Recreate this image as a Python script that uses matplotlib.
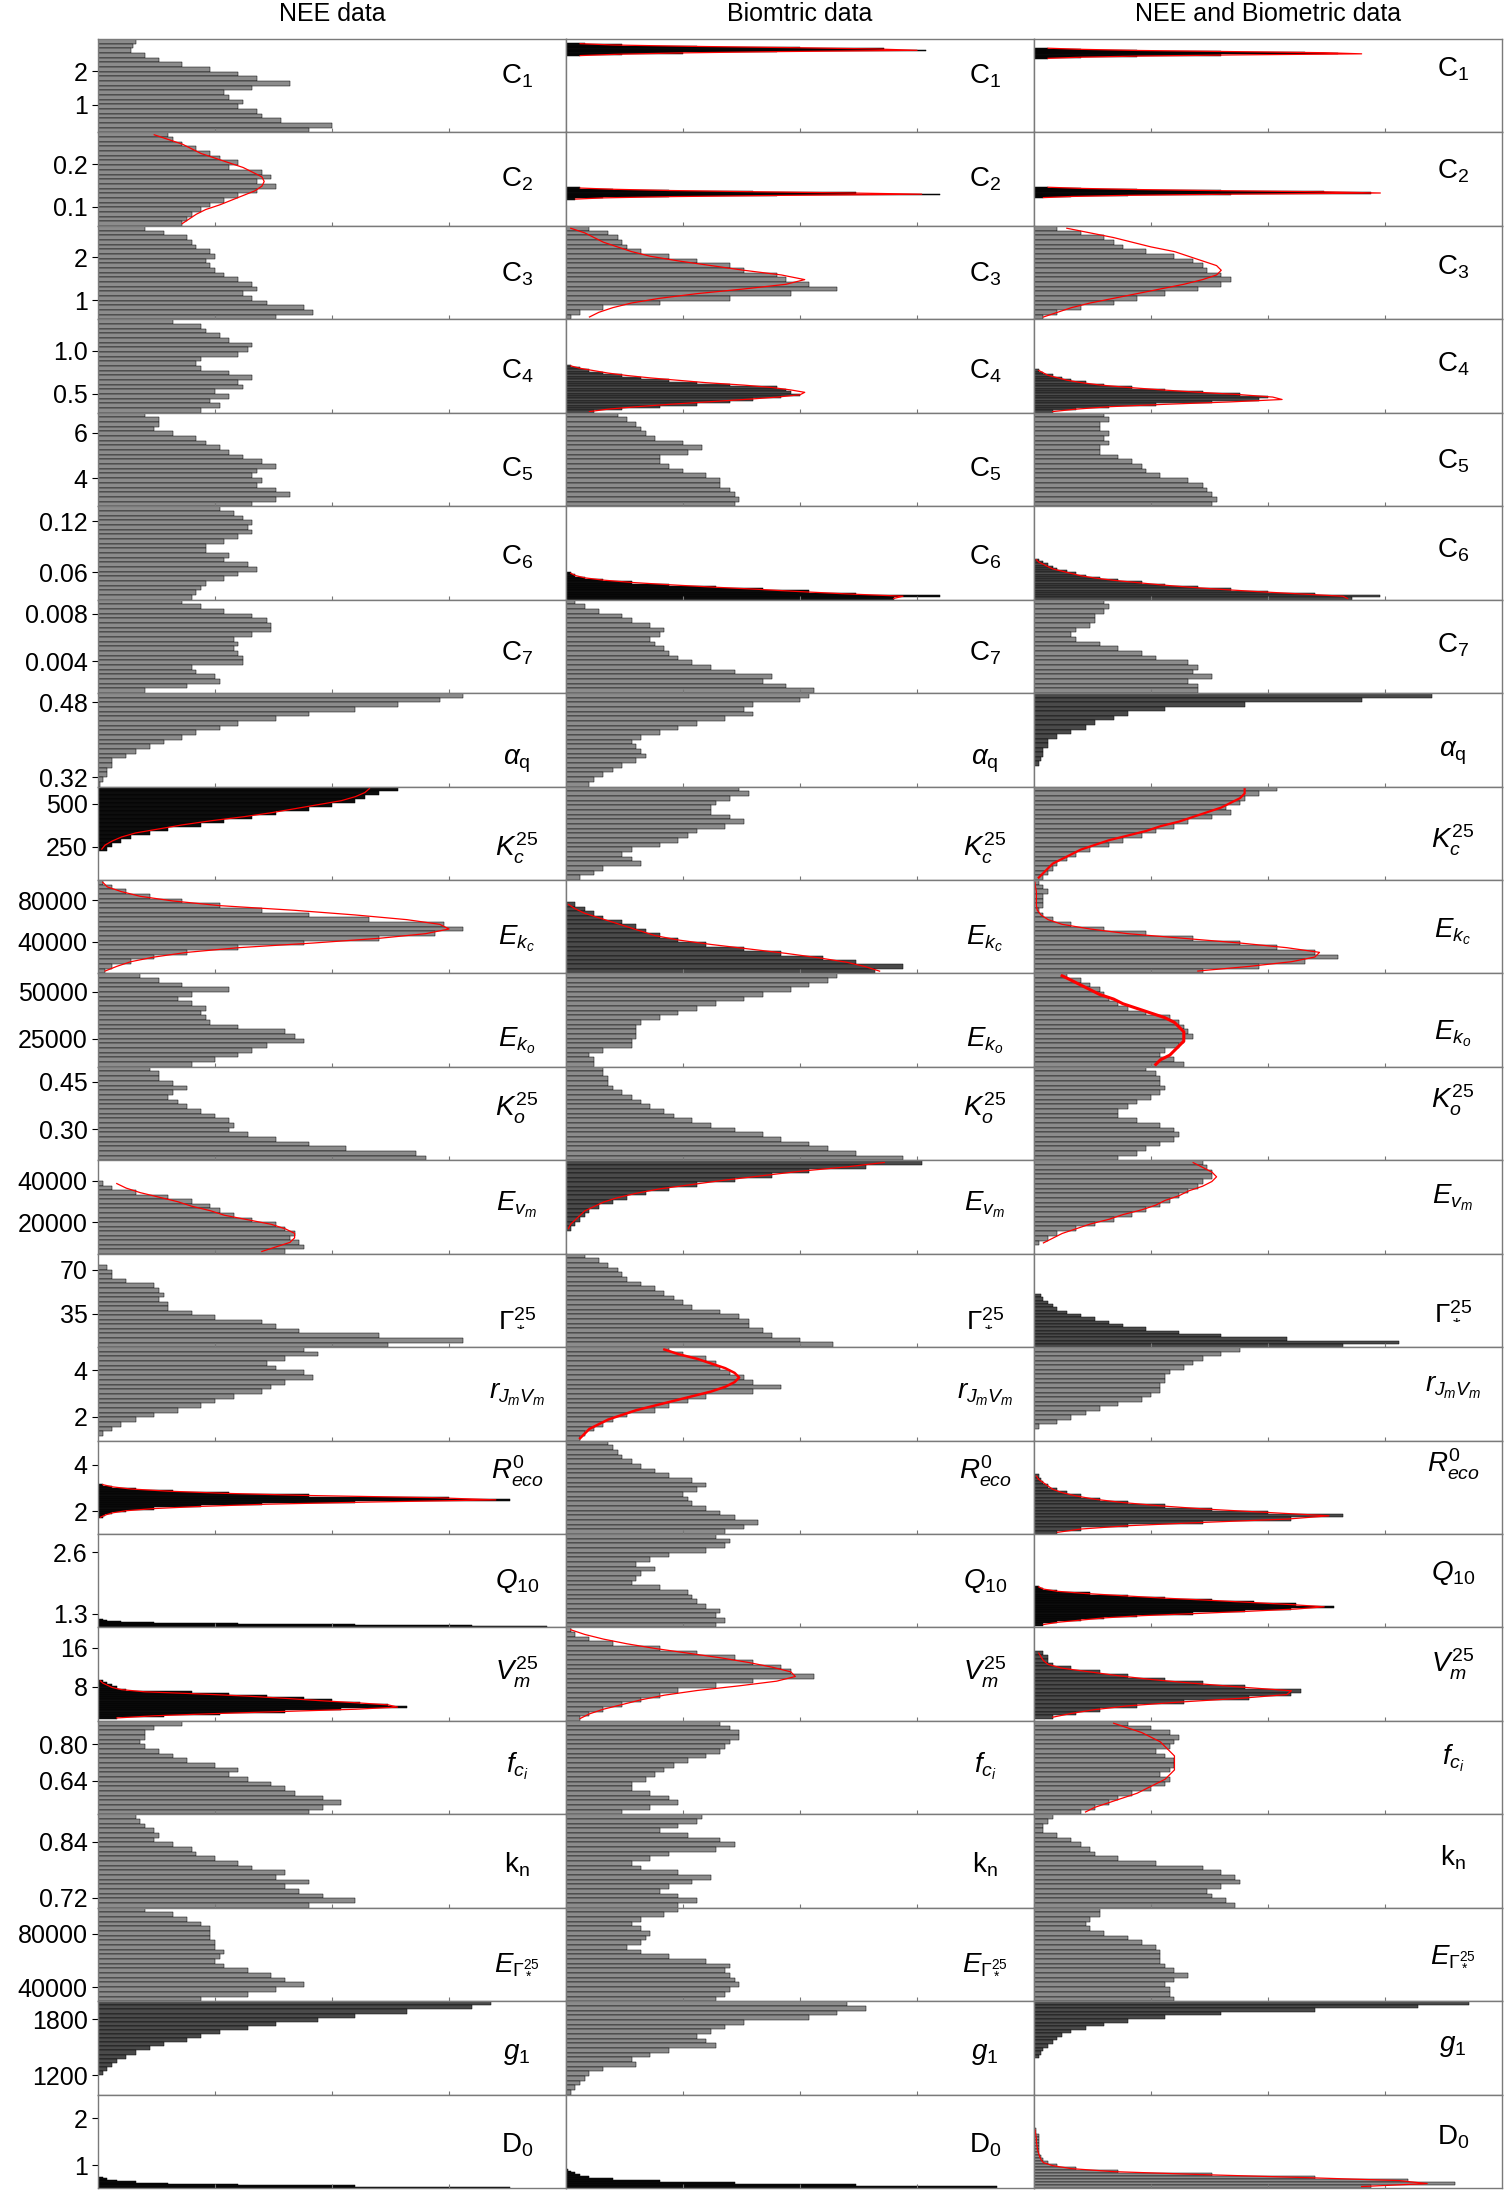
#!/usr/bin/env python3
"""Posterior histograms of the model parameters for three data sets."""

import matplotlib

matplotlib.use("Agg")
import matplotlib.pyplot as plt
import numpy as np

plt.rcParams["font.family"] = ["Liberation Sans", "DejaVu Sans"]
plt.rcParams["mathtext.fontset"] = "custom"
plt.rcParams["mathtext.rm"] = "Liberation Sans"
plt.rcParams["mathtext.it"] = "Liberation Sans:italic"
plt.rcParams["mathtext.bf"] = "Liberation Sans:bold"

COLUMNS = ["NEE data", "Biomtric data", "NEE and Biometric data"]

LABELS = [
    r"$\mathrm{C}_1$", r"$\mathrm{C}_2$", r"$\mathrm{C}_3$", r"$\mathrm{C}_4$",
    r"$\mathrm{C}_5$", r"$\mathrm{C}_6$", r"$\mathrm{C}_7$", r"$\alpha_\mathrm{q}$",
    r"$K_c^{25}$", r"$E_{k_c}$", r"$E_{k_o}$", r"$K_o^{25}$", r"$E_{v_m}$",
    r"$\Gamma_*^{25}$", r"$r_{J_m V_m}$", r"$R_{eco}^0$", r"$Q_{10}$",
    r"$V_m^{25}$", r"$f_{c_i}$", r"$\mathrm{k_n}$", r"$E_{\Gamma_*^{25}}$",
    r"$g_1$", r"$\mathrm{D_0}$",
]

# y range of every row (shared by the three columns) and the tick labels of column 1
ROW_YLIM = [
    (0.16, 2.98), (0.0545, 0.2755), (0.554, 2.73), (0.275, 1.369), (2.76, 6.88),
    (0.0282, 0.1375), (0.00134, 0.00919), (0.300, 0.500), (56, 601), (9640, 99640),
    (9920, 59920), (0.202, 0.498), (4910, 49820), (8.8, 82.5), (0.976, 4.99),
    (1.03, 5.03), (1.008, 2.985), (1.05, 20.1), (0.4945, 0.901), (0.698, 0.8996),
    (29500, 99500), (990, 1995), (0.514, 2.51),
]
ROW_TICKS = [
    ["2", "1"], ["0.2", "0.1"], ["2", "1"], ["1.0", "0.5"], ["6", "4"],
    ["0.12", "0.06"], ["0.008", "0.004"], ["0.48", "0.32"], ["500", "250"],
    ["80000", "40000"], ["50000", "25000"], ["0.45", "0.30"], ["40000", "20000"],
    ["70", "35"], ["4", "2"], ["4", "2"], ["2.6", "1.3"], ["16", "8"],
    ["0.80", "0.64"], ["0.84", "0.72"], ["80000", "40000"], ["1800", "1200"], ["2", "1"],
]
LABEL_Y = [0.60, 0.50, 0.48, 0.44, 0.40, 0.45, 0.43, 0.27, 0.34, 0.37, 0.28, 0.56,
           0.52, 0.31, 0.49, 0.67, 0.50, 0.52, 0.52, 0.46, 0.42, 0.44, 0.46]

# Bar lengths in % of panel width, listed from the top bin to the bottom bin.
# *_span = (low, high) of the binned values when narrower than the row; *_fit = red fitted curve.
c1_nee = [8, 7.5, 7, 10, 13, 18, 24, 30, 34, 41, 33, 27, 28, 31, 30, 34, 35, 39, 50, 45]
c1_bio = [4, 12, 28, 50, 68, 77, 45, 25, 12, 3]
c1_bio_span = (2.46, 2.86)
c1_bio_fit = [3, 10, 26, 48, 66, 75, 45, 24, 11, 3]
c1_all = [3, 10, 22, 40, 58, 65, 40, 22, 10, 3]
c1_all_span = (2.38, 2.72)
c1_all_fit = [3, 10, 22, 42, 62, 70, 42, 22, 10, 3]

c2_nee = [15, 16, 18, 21, 24, 26, 30, 28, 35, 37, 34, 38, 34, 30, 27, 24, 22, 20, 19, 18]
c2_nee_fit = [12, 15, 18, 20, 22, 25, 28, 31, 33, 35, 35.5, 35, 33.5, 31, 28.5, 26, 23, 21, 19.5, 18]
c2_bio = [3, 10, 22, 40, 62, 80, 45, 22, 8, 2]
c2_bio_span = (0.1164, 0.1455)
c2_bio_fit = [3, 10, 22, 40, 60, 76, 45, 22, 8, 2]
c2_all = [3, 10, 22, 40, 62, 72, 42, 20, 8, 2]
c2_all_span = (0.12, 0.1473)
c2_all_fit = [3, 10, 22, 40, 62, 74, 42, 20, 8, 2]

c3_nee = [10, 14, 19, 20, 21, 24, 25, 23, 24, 25, 27, 30, 33, 34, 31, 33, 36, 44, 46, 38]
c3_bio = [5, 9, 11, 12, 13, 16, 22, 28, 35, 38, 45, 47, 52, 58, 48, 35, 20, 8, 3, 1]
c3_bio_fit = [1, 4, 6, 8, 11, 14, 18, 24, 31, 38, 46, 51, 47, 38, 28, 20, 14, 10, 7, 5]
c3_all = [5, 10, 15, 17, 19, 24, 30, 34, 36, 37, 40, 42, 40, 35, 28, 22, 17, 10, 5, 2]
c3_all_fit = [7, 12, 17, 21, 25, 30, 33, 36, 39, 40, 39, 36, 32, 27, 22, 17, 12, 8, 5, 2]

c4_nee = [16, 22, 23, 26, 28, 33, 32, 30, 22, 21, 22, 28, 33, 30, 31, 25, 28, 24, 26, 22]
c4_bio = [1, 3, 5, 8, 12, 16, 22, 28, 35, 45, 47, 48, 50, 46, 40, 35, 28, 20, 12, 6]
c4_bio_span = (0.275, 0.838)
c4_bio_fit = [1, 3, 6, 9, 13, 18, 24, 30, 38, 44, 48, 51, 50, 45, 38, 30, 22, 15, 9, 5]
c4_all = [1, 2, 4, 6, 8, 11, 15, 21, 28, 36, 44, 50, 48, 38, 26, 16, 9, 4]
c4_all_span = (0.275, 0.784)
c4_all_fit = [1, 2, 3, 5, 7, 10, 14, 20, 27, 35, 44, 51, 53, 42, 28, 16, 9, 4]

c5_nee = [10, 13, 13, 12, 16, 21, 23, 26, 28, 31, 35, 38, 34, 33, 35, 34, 38, 41, 38, 33]
c5_bio = [11, 13, 15, 16, 17, 19, 25, 29, 26, 20, 20, 22, 25, 30, 33, 33, 35, 36, 37, 36]
c5_all = [15, 16, 14, 14, 16, 15, 16, 14, 14, 18, 21, 23, 24, 27, 33, 36, 37, 38, 39, 38]

c6_nee = [26, 29, 31, 33, 32, 33, 30, 27, 23, 23, 28, 27, 32, 34, 30, 27, 23, 22, 21, 20]
c6_bio = [1, 2, 4, 8, 14, 22, 32, 42, 52, 62, 80, 70]
c6_bio_span = (0.0282, 0.0604)
c6_bio_fit = [1, 2, 4, 8, 14, 22, 31, 41, 50, 60, 72, 70]
c6_all = [1, 2, 3, 4, 5, 7, 9, 11, 14, 18, 23, 28, 35, 42, 50, 60, 74, 68]
c6_all_span = (0.0282, 0.0761)
c6_all_fit = [0.5, 1, 2, 3, 4, 6, 8, 10, 13, 17, 22, 27, 33, 40, 48, 57, 66, 67]

c7_nee = [18, 22, 27, 33, 36, 37, 37, 33, 29, 30, 29, 30, 31, 31, 20, 21, 25, 26, 19, 10]
c7_bio = [2, 4, 7, 12, 14, 18, 21, 20, 18, 19, 21, 22, 24, 27, 31, 36, 44, 42, 47, 53]
c7_all = [15, 16, 15, 13, 13, 12, 9, 8, 9, 14, 18, 23, 26, 33, 35, 34, 38, 33, 35, 35]

aq_nee = [78, 73, 64, 55, 45, 38, 30, 26, 21, 18, 14, 11, 8, 6, 3, 3, 2, 2, 1, 0.5]
aq_bio = [52, 50, 40, 38, 40, 34, 28, 24, 20, 16, 14, 15, 16, 17, 15, 12, 10, 8, 6, 5]
aq_all = [85, 70, 45, 28, 20, 17, 13, 11, 8, 5, 3, 3, 2, 2, 1.5, 1]
aq_all_span = (0.344, 0.50)

kc_nee = [64, 60, 57, 55, 50, 45, 38, 33, 27, 22, 15, 11, 7, 5, 3, 2]
kc_nee_span = (224, 601)
kc_nee_fit = [58, 57, 55, 52, 47, 42, 37, 31, 24, 18, 13, 8, 5, 3, 1.5, 0.8]
kc_bio = [37, 39, 35, 32, 31, 31, 35, 38, 34, 28, 26, 24, 20, 14, 12, 14, 16, 8, 6, 3]
kc_all = [52, 48, 45, 44, 41, 42, 38, 33, 30, 26, 23, 19, 16, 12, 9, 7, 5, 4, 3, 2]
kc_all_fit = [45, 45, 44, 42, 40, 37, 34, 31, 27, 24, 20, 16, 13, 10, 8, 6, 4, 3, 2, 1]

ekc_nee = [1, 3, 6, 11, 18, 26, 35, 45, 58, 74, 78, 72, 60, 44, 30, 19, 12, 7, 3, 1.5]
ekc_nee_fit = [1, 2, 5, 9, 16, 26, 42, 55, 66, 73, 75, 70, 60, 46, 30, 19, 12, 7, 4, 1.5]
ekc_bio = [2, 4, 6, 8, 12, 15, 17, 20, 24, 30, 38, 46, 55, 62, 72, 66]
ekc_bio_span = (9640, 78200)
ekc_bio_fit = [0.5, 2, 4, 7, 10, 13, 16, 19, 24, 31, 39, 47, 54, 60, 64, 67]
ekc_all = [1, 2, 3, 2, 2, 2, 1, 2, 4, 8, 15, 24, 34, 44, 52, 60, 65, 58, 48, 36]
ekc_all_fit = [0.2, 0.3, 0.5, 0.5, 0.5, 0.5, 0.7, 1.5, 3, 6, 12, 20, 32, 44, 54, 61, 60, 55, 46, 35]

eko_nee = [9, 13, 18, 28, 20, 17, 20, 23, 22, 23, 24, 30, 40, 42, 44, 36, 33, 30, 25, 20]
eko_bio = [58, 56, 52, 48, 42, 38, 32, 28, 24, 20, 16, 15, 15, 15, 14, 14, 8, 5, 6, 6]
eko_all = [7, 10, 12, 14, 15, 16, 18, 20, 24, 29, 31, 32, 33, 34, 32, 31, 28, 27, 30, 32]
eko_all_fit = [6, 8, 10, 12, 14, 17, 19, 22, 25, 28, 30, 31, 32, 32, 32, 31, 30, 29, 27, 26]

ko_nee = [11, 13, 13, 16, 19, 16, 15, 17, 19, 22, 25, 28, 29, 28, 32, 38, 45, 53, 68, 70]
ko_bio = [8, 8, 9, 9, 10, 12, 14, 16, 18, 21, 23, 27, 31, 36, 42, 46, 52, 56, 62, 72]
ko_all = [24, 26, 27, 27, 28, 27, 25, 22, 20, 18, 18, 22, 27, 30, 31, 30, 27, 24, 22, 18]

ev_nee = [1, 3, 8, 15, 20, 24, 26, 29, 33, 38, 40, 42, 41, 43, 44, 40]
ev_nee_span = (4900, 39700)
ev_nee_fit = [4, 6, 9, 13, 17, 20, 24, 27, 32, 37, 40, 42, 42, 41, 38, 35]
ev_bio = [76, 64, 52, 44, 36, 28, 22, 17, 13, 10, 7, 5, 4, 3, 2, 1]
ev_bio_span = (15960, 49820)
ev_bio_fit = [68, 60, 50, 42, 34, 27, 20, 15, 11, 8, 6, 4, 3, 2, 1, 0.5]
ev_all = [36, 37, 38, 38, 36, 35, 33, 31, 29, 27, 24, 21, 17, 13, 9, 5, 3, 1]
ev_all_span = (8950, 49820)
ev_all_fit = [34, 36, 38, 39, 38, 36, 33, 31, 28, 26, 23, 19, 16, 12, 9, 6, 4, 2]

gs_nee = [2, 3, 3, 6, 12, 13, 14, 13, 15, 15, 20, 25, 35, 38, 43, 60, 78, 62]
gs_nee_span = (8.8, 73.4)
gs_bio = [4, 7, 9, 11, 12, 13, 16, 19, 21, 23, 25, 27, 33, 37, 39, 39, 42, 44, 50, 57]
gs_all = [1.5, 2, 3, 4, 5, 7, 10, 13, 16, 19, 24, 31, 40, 54, 78, 66]
gs_all_span = (8.8, 50.6)

rj_nee = [44, 47, 40, 36, 38, 44, 46, 40, 37, 35, 29, 25, 22, 17, 12, 8, 5, 3, 1, 0]
rj_bio = [22, 25, 30, 32, 33, 35, 38, 40, 46, 40, 30, 26, 22, 19, 13, 10, 8, 6, 4, 3]
rj_bio_fit = [21, 24, 28, 31, 34, 36, 37, 36, 34, 31, 27, 23, 19, 15, 12, 9, 7, 5, 4, 3]
rj_all = [44, 40, 36, 34, 32, 29, 28, 28, 27, 27, 25, 23, 18, 14, 11, 8, 5, 1]
rj_all_span = (1.48, 4.99)

re_nee = [1, 3, 8, 16, 28, 45, 75, 88, 55, 35, 22, 12, 6, 3, 1.5, 1]
re_nee_span = (1.70, 3.19)
re_nee_fit = [1, 3, 7, 15, 27, 45, 72, 85, 58, 36, 22, 12, 6, 3, 1.5, 0.5]
re_bio = [9, 10, 11, 12, 14, 16, 19, 22, 27, 30, 28, 25, 26, 27, 30, 33, 36, 41, 38, 34]
re_all = [1, 1.5, 2, 3, 5, 7, 10, 14, 20, 28, 38, 50, 66, 55, 36, 20, 10, 5]
re_all_span = (1.03, 3.58)
re_all_fit = [0.5, 1, 2, 3, 4, 6, 9, 13, 19, 27, 37, 50, 63, 54, 36, 20, 10, 5]

q10_nee = [1, 2, 5, 12, 30, 55, 80, 96]
q10_nee_span = (1.008, 1.185)
q10_bio = [32, 35, 34, 30, 22, 18, 15, 19, 16, 15, 14, 20, 26, 27, 28, 30, 33, 32, 34, 32]
q10_all = [1, 2, 5, 12, 20, 28, 38, 47, 56, 64, 55, 45, 34, 22, 15, 10, 5, 2]
q10_all_span = (1.046, 1.89)
q10_all_fit = [1, 2, 5, 11, 19, 27, 37, 46, 55, 62, 56, 46, 35, 23, 15, 10, 5, 2]

vm_nee = [1, 2, 3, 4, 6, 20, 28, 36, 44, 50, 56, 62, 66, 52, 40, 26, 14, 4]
vm_nee_span = (1.42, 9.42)
vm_nee_fit = [0.5, 1, 2, 3, 5, 10, 22, 32, 40, 47, 55, 62, 64, 55, 40, 25, 12, 4]
vm_bio = [1, 2, 5, 10, 20, 28, 36, 40, 46, 48, 53, 40, 32, 24, 20, 16, 12, 8, 5, 3]
vm_bio_fit = [1, 4, 8, 13, 19, 26, 33, 39, 44, 48, 49, 45, 37, 28, 21, 16, 12, 8, 5, 3]
vm_all = [2, 3, 3, 4, 8, 14, 20, 28, 36, 45, 57, 55, 46, 32, 22, 14, 9, 4]
vm_all_span = (1.42, 15.25)
vm_all_fit = [1, 1.5, 2, 3, 6, 12, 18, 25, 34, 44, 55, 54, 44, 31, 20, 13, 8, 4]

fc_nee = [18, 12, 10, 10, 9, 10, 13, 16, 19, 25, 30, 28, 32, 37, 40, 42, 48, 52, 48, 45]
fc_bio = [33, 35, 37, 37, 35, 34, 33, 30, 26, 23, 21, 19, 17, 14, 14, 18, 22, 24, 18, 12]
fc_all = [20, 25, 29, 31, 30, 29, 26, 28, 30, 30, 29, 27, 29, 28, 25, 21, 18, 16, 13, 10]
fc_all_fit = [17, 20, 23, 25, 27, 28, 29, 30, 30, 30, 30, 29, 28, 26, 24, 22, 19, 16, 13, 11]

kn_nee = [8, 9, 10, 12, 13, 12, 16, 20, 21, 25, 30, 33, 40, 38, 45, 40, 43, 48, 55, 45]
kn_bio = [29, 28, 24, 20, 26, 33, 36, 32, 22, 18, 14, 16, 24, 31, 27, 22, 20, 24, 28, 24]
kn_all = [4, 3, 2, 2, 5, 8, 10, 12, 13, 18, 26, 36, 40, 43, 44, 40, 37, 38, 41, 43]

eg_nee = [10, 16, 19, 22, 24, 24, 24, 25, 25, 27, 26, 25, 27, 32, 37, 40, 44, 38, 32, 22]
eg_bio = [24, 21, 16, 14, 16, 18, 17, 16, 13, 16, 22, 30, 35, 34, 35, 36, 37, 35, 34, 32]
eg_all = [14, 14, 12, 11, 12, 15, 20, 23, 26, 27, 27, 27, 28, 30, 33, 30, 28, 29, 29, 30]

g1_nee = [84, 80, 66, 55, 47, 38, 32, 26, 22, 19, 14, 11, 8, 6, 4, 3, 2, 1]
g1_nee_span = (1200, 1995)
g1_bio = [60, 64, 58, 52, 38, 34, 31, 28, 30, 32, 22, 18, 14, 15, 8, 5, 4, 3, 2, 1]
g1_all = [93, 82, 60, 40, 28, 20, 15, 11, 8, 6, 5, 4, 3, 2, 1.5, 1]
g1_all_span = (1380, 1995)

d0_nee = [1, 2, 4, 8, 15, 30, 55, 88]
d0_nee_span = (0.514, 0.75)
d0_bio = [0.5, 1, 2, 3, 5, 10, 20, 36, 62, 92]
d0_bio_span = (0.514, 0.93)
d0_all = [0.5, 0.5, 1, 1, 1, 1, 1, 1, 1, 1.5, 2, 3, 5, 9, 18, 38, 60, 80, 90, 72]
d0_all_span = (0.514, 1.79)
d0_all_fit = [0.2, 0.3, 0.4, 0.5, 0.5, 0.6, 0.7, 0.8, 1, 1.2, 1.5, 2, 4, 8, 17, 36, 58, 78, 84, 70]

FACE = {"grey": "#8c8c8c", "mid": "#4a4a4a", "dark": "#0d0d0d"}


def panel(counts, span=None, fit=None, style="grey", fit_width=0.9):
    return {"counts": counts, "span": span, "fit": fit, "style": style, "fit_width": fit_width}


PANELS = [
    [panel(c1_nee), panel(c1_bio, c1_bio_span, c1_bio_fit, "dark"), panel(c1_all, c1_all_span, c1_all_fit, "dark")],
    [panel(c2_nee, fit=c2_nee_fit), panel(c2_bio, c2_bio_span, c2_bio_fit, "dark"), panel(c2_all, c2_all_span, c2_all_fit, "dark")],
    [panel(c3_nee), panel(c3_bio, fit=c3_bio_fit), panel(c3_all, fit=c3_all_fit)],
    [panel(c4_nee), panel(c4_bio, c4_bio_span, c4_bio_fit, "mid"), panel(c4_all, c4_all_span, c4_all_fit, "mid")],
    [panel(c5_nee), panel(c5_bio), panel(c5_all)],
    [panel(c6_nee), panel(c6_bio, c6_bio_span, c6_bio_fit, "dark"), panel(c6_all, c6_all_span, c6_all_fit, "mid")],
    [panel(c7_nee), panel(c7_bio), panel(c7_all)],
    [panel(aq_nee), panel(aq_bio), panel(aq_all, aq_all_span, style="mid")],
    [panel(kc_nee, kc_nee_span, kc_nee_fit, "dark"), panel(kc_bio), panel(kc_all, fit=kc_all_fit, fit_width=1.6)],
    [panel(ekc_nee, fit=ekc_nee_fit), panel(ekc_bio, ekc_bio_span, ekc_bio_fit, "mid"), panel(ekc_all, fit=ekc_all_fit)],
    [panel(eko_nee), panel(eko_bio), panel(eko_all, fit=eko_all_fit, fit_width=2.2)],
    [panel(ko_nee), panel(ko_bio), panel(ko_all)],
    [panel(ev_nee, ev_nee_span, ev_nee_fit), panel(ev_bio, ev_bio_span, ev_bio_fit, "mid"), panel(ev_all, ev_all_span, ev_all_fit)],
    [panel(gs_nee, gs_nee_span), panel(gs_bio), panel(gs_all, gs_all_span, style="mid")],
    [panel(rj_nee), panel(rj_bio, fit=rj_bio_fit, fit_width=1.8), panel(rj_all, rj_all_span)],
    [panel(re_nee, re_nee_span, re_nee_fit, "dark"), panel(re_bio), panel(re_all, re_all_span, re_all_fit, "mid")],
    [panel(q10_nee, q10_nee_span, style="dark"), panel(q10_bio), panel(q10_all, q10_all_span, q10_all_fit, "dark")],
    [panel(vm_nee, vm_nee_span, vm_nee_fit, "dark"), panel(vm_bio, fit=vm_bio_fit), panel(vm_all, vm_all_span, vm_all_fit, "mid")],
    [panel(fc_nee), panel(fc_bio), panel(fc_all, fit=fc_all_fit)],
    [panel(kn_nee), panel(kn_bio), panel(kn_all)],
    [panel(eg_nee), panel(eg_bio), panel(eg_all)],
    [panel(g1_nee, g1_nee_span, style="mid"), panel(g1_bio), panel(g1_all, g1_all_span, style="mid")],
    [panel(d0_nee, d0_nee_span, style="dark"), panel(d0_bio, d0_bio_span, style="dark"), panel(d0_all, d0_all_span, d0_all_fit)],
]


def draw_panel(ax, spec, ylim):
    low, high = spec["span"] if spec["span"] else ylim
    counts = np.asarray(spec["counts"], dtype=float)
    edges = np.linspace(high, low, len(counts) + 1)
    centers = 0.5 * (edges[:-1] + edges[1:])
    height = (high - low) / len(counts)
    ax.barh(centers, counts, height=height, left=0, color=FACE[spec["style"]],
            edgecolor="black", linewidth=0.35)
    if spec["fit"] is not None:
        ax.plot(spec["fit"], centers, color="red", linewidth=spec["fit_width"])


fig, axes = plt.subplots(len(LABELS), 3, figsize=(15.04, 21.92), dpi=100, sharey="row")
fig.subplots_adjust(left=0.0652, right=0.9987, top=0.9822, bottom=0.0018, hspace=0, wspace=0)

for row, label in enumerate(LABELS):
    ylim = ROW_YLIM[row]
    for col in range(3):
        ax = axes[row, col]
        draw_panel(ax, PANELS[row][col], ylim)
        ax.set_xlim(0, 100)
        ax.set_ylim(*ylim)
        ax.set_xticks([25, 50, 75])
        ax.tick_params(axis="x", direction="in", length=3, labelbottom=False, color="#777777")
        for spine in ax.spines.values():
            spine.set_color("#7a7a7a")
            spine.set_linewidth(1.0)
        label_y = LABEL_Y[row] + (0.08 if col == 2 else 0.0)
        ax.text(0.895, label_y, label, transform=ax.transAxes, ha="center", va="center", fontsize=20)
        if col == 0:
            ticks = [float(t) for t in ROW_TICKS[row]]
            ax.set_yticks(ticks)
            ax.set_yticklabels(ROW_TICKS[row])
            ax.tick_params(axis="y", direction="out", length=4, labelsize=18)
        else:
            ax.tick_params(axis="y", left=False, labelleft=False)

col_width = (0.9987 - 0.0652) / 3
for col, title in enumerate(COLUMNS):
    fig.text(0.0652 + col_width * (col + 0.5), 0.9936, title, ha="center", va="center", fontsize=18)

fig.savefig("out.png", dpi=100)
